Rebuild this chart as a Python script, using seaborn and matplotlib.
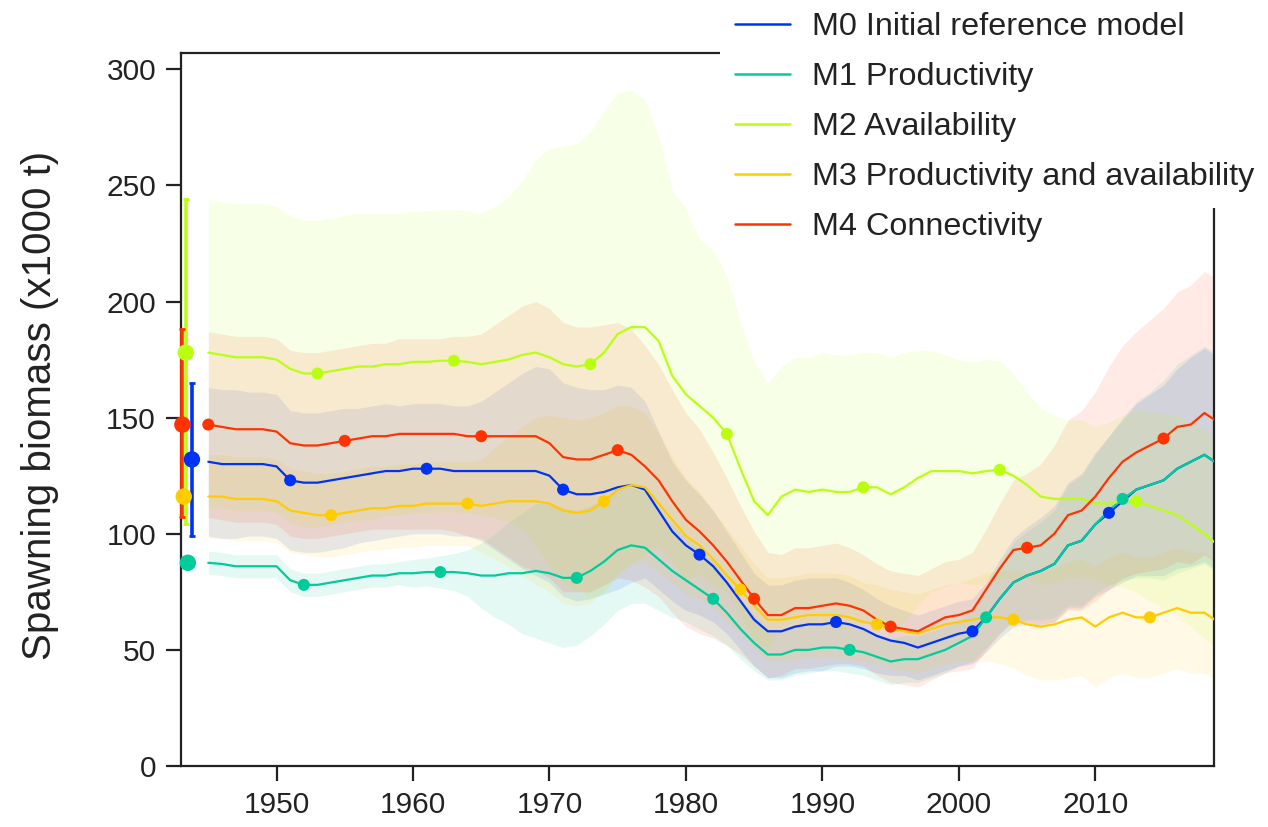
import numpy as np
import pandas as pd
import matplotlib
matplotlib.use("Agg")
import matplotlib.pyplot as plt
import seaborn as sns
from matplotlib.patches import Rectangle
from matplotlib.lines import Line2D

# ---------------- data ----------------
years = np.arange(1945, 2020)

models = ["M0 Initial reference model", "M1 Productivity", "M2 Availability",
          "M3 Productivity and availability", "M4 Connectivity"]

m0 = [131, 130, 130, 130, 130,
      129, 123, 122, 122, 123, 124, 125, 126, 127, 127,
      128, 128, 128, 127, 127, 127, 127, 127, 127, 127,
      125, 119, 117, 117, 118, 120, 121, 119, 110, 101,
      95, 91, 86, 79, 71, 63, 58, 58, 60, 61,
      61, 62, 61, 59, 56, 54, 53, 51, 53, 55,
      57, 58, 64, 72, 79, 82, 84, 87, 95, 97,
      104, 109, 114, 119, 121, 123, 128, 131, 134, 130]
m1 = [87.5, 87, 86, 86, 86,
      86, 80, 78, 78, 79, 80, 81, 82, 82, 83,
      83, 83.5, 83.5, 83.5, 83, 82, 82, 83, 83, 84,
      83, 81, 81, 84, 88, 93, 95, 94, 89, 84,
      80, 76, 72, 66, 59, 53, 48, 48, 50, 50,
      51, 51, 50, 49, 47, 45, 46, 46, 48, 50,
      53, 56, 64, 72, 79, 82, 84, 87, 95, 97,
      104, 110, 115, 119, 121, 123, 128, 131, 134, 130]
m2 = [178, 177, 176, 176, 176,
      175, 171, 169, 169, 170, 171, 172, 172, 173, 173,
      174, 174, 174.5, 174.5, 174, 173, 174, 175, 177, 178,
      176, 173, 172, 173, 178, 186, 189, 189, 183, 168,
      160, 155, 150, 143, 128, 114, 108, 116, 119, 118,
      119, 118, 118, 120, 120, 117, 120, 124, 127, 127,
      127, 126, 127, 127.5, 125, 121, 116, 115, 115, 115,
      113, 113, 114, 114, 112, 110, 108, 104, 100, 95]
m3 = [116, 116, 115, 115, 115,
      114, 110, 109, 108, 108, 109, 110, 111, 111, 112,
      112, 113, 113, 113, 113, 112, 113, 114, 114, 114,
      113, 110, 109, 110, 114, 119, 121, 120, 113, 106,
      99, 95, 89, 82, 76, 69, 63, 63, 64, 65,
      65, 65, 64, 62, 61, 59, 58, 57, 59, 61,
      62, 63, 64, 64, 63, 61, 60, 61, 63, 64,
      60, 64, 66, 64, 64, 66, 68, 66, 66, 62]
m4 = [147, 146, 145, 145, 145,
      144, 139, 138, 138, 139, 140, 141, 142, 142, 143,
      143, 143, 143, 143, 142, 142, 142, 142, 142, 142,
      139, 133, 132, 132, 134, 136, 134, 129, 123, 114,
      106, 101, 95, 88, 80, 72, 65, 65, 68, 68,
      69, 70, 69, 67, 63, 60, 59, 58, 61, 64,
      65, 67, 76, 85, 93, 94, 95, 100, 108, 110,
      116, 124, 131, 135, 138, 141, 146, 147, 152, 148]

# half-widths of the 95% intervals
hw0 = [32, 32, 32, 31, 31,
       31, 30, 30, 30, 30, 30, 29, 29, 29, 28,
       28, 28, 28, 28, 28, 30, 34, 38, 42, 45,
       46, 46, 46, 45, 44, 44, 42, 38, 34, 30,
       28, 26, 24, 22, 21, 20, 20, 20, 20, 20,
       20, 19, 18, 17, 16, 15, 14, 14, 14, 14,
       14, 14, 15, 17, 19, 21, 23, 25, 27, 29,
       31, 33, 35, 37, 39, 41, 43, 45, 46, 46]
hw1 = [5, 5, 5, 5, 5,
       5, 5, 5, 5, 5, 5, 5, 5, 5, 5,
       6, 6, 7, 8, 10, 14, 18, 22, 26, 29,
       30, 30, 29, 28, 27, 26, 25, 24, 22, 20,
       18, 17, 16, 14, 13, 12, 11, 11, 11, 10,
       10, 10, 10, 10, 10, 10, 10, 10, 10, 10,
       10, 11, 13, 15, 17, 19, 21, 23, 26, 28,
       30, 32, 35, 38, 40, 43, 45, 46, 47, 47]
hw2 = [66, 66, 66, 66, 66,
       66, 66, 66, 66, 66, 66, 66, 66, 65, 65,
       65, 65, 65, 65, 65, 65, 67, 70, 75, 83,
       90, 94, 96, 100, 104, 104, 102, 98, 88, 80,
       80, 72, 72, 68, 63, 60, 57, 56, 57, 58,
       59, 59, 59, 58, 58, 59, 58, 55, 52, 50,
       48, 48, 48, 47, 44, 40, 38, 36, 34, 34,
       33, 35, 37, 39, 41, 42, 43, 44, 45, 45]
hw3 = [18, 18, 18, 18, 18,
       18, 18, 18, 18, 18, 18, 18, 18, 18, 18,
       18, 18, 18, 18, 18, 20, 24, 28, 32, 36,
       38, 40, 40, 40, 38, 36, 34, 32, 30, 27,
       25, 23, 21, 20, 19, 18, 18, 18, 18, 18,
       18, 18, 18, 17, 17, 17, 17, 17, 17, 17,
       17, 18, 19, 20, 21, 22, 23, 24, 25, 25,
       26, 26, 26, 26, 26, 26, 26, 26, 26, 26]
hw4 = [40, 40, 40, 40, 40,
       40, 40, 40, 40, 40, 40, 40, 40, 40, 41,
       41, 41, 41, 42, 43, 44, 48, 52, 56, 58,
       58, 58, 57, 57, 56, 55, 54, 52, 50, 48,
       46, 44, 40, 36, 32, 29, 27, 26, 26, 26,
       26, 26, 25, 24, 24, 24, 24, 24, 24, 24,
       24, 25, 26, 28, 30, 32, 35, 38, 41, 43,
       45, 48, 50, 52, 54, 56, 58, 60, 61, 61]

# virgin (unfished) biomass estimates and intervals
virgin_year = [1943.8, 1943.5, 1943.35, 1943.2, 1943.1]
virgin_val = [132, 87.5, 178, 116, 147]
virgin_lo = [99, np.nan, 104, np.nan, 107]
virgin_hi = [165, np.nan, 244, np.nan, 188]

series = [m0, m1, m2, m3, m4]
halfw = [hw0, hw1, hw2, hw3, hw4]
colors = ["#0033F1", "#00CC9B", "#BAFF11", "#FFCC00", "#FF3300"]

# ---------------- build tables ----------------
rows = []
for name, vals in zip(models, series):
    for y, v in zip(years, vals):
        rows.append((name, y, v))
df = pd.DataFrame(rows, columns=["model", "year", "value"])

pts = []
for i, (name, vals) in enumerate(zip(models, series)):
    for y, v in zip(years, vals):
        if (y - 1951 - i) % 10 == 0:
            pts.append((name, y, v))
pts = pd.DataFrame(pts, columns=["model", "year", "value"])

vdf = pd.DataFrame({"model": models, "year": virgin_year, "value": virgin_val})

# ---------------- plot ----------------
sns.set_theme(style="ticks")
plt.rcParams["font.family"] = ["Liberation Sans", "DejaVu Sans"]

fig = plt.figure(figsize=(12.68, 8.27), dpi=100)
ax = fig.add_axes([181 / 1268, 1 - 766 / 827, (1214 - 181) / 1268, (766 - 53) / 827])

pal = dict(zip(models, colors))

for vals, hw, c in zip(series, halfw, colors):
    v = np.array(vals, float)
    h = np.array(hw, float)
    ax.fill_between(years, v - h, v + h, color=c, alpha=0.10, lw=0, zorder=1)

sns.lineplot(data=df, x="year", y="value", hue="model", palette=pal,
             estimator=None, sort=False, lw=1.6, legend=False, ax=ax, zorder=3)
sns.scatterplot(data=pts, x="year", y="value", hue="model", palette=pal,
                s=75, edgecolor="none", legend=False, ax=ax, zorder=4)

for i in [2, 4, 0]:
    if not np.isnan(virgin_lo[i]):
        ax.errorbar(virgin_year[i], virgin_val[i],
                    yerr=[[virgin_val[i] - virgin_lo[i]], [virgin_hi[i] - virgin_val[i]]],
                    fmt="none", ecolor=colors[i], elinewidth=2.6, capsize=2,
                    capthick=2, zorder=4, clip_on=False)
sns.scatterplot(data=vdf, x="year", y="value", hue="model", palette=pal,
                s=140, edgecolor="none", legend=False, ax=ax, zorder=5, clip_on=False)

ax.set_xlim(1943.0, 2018.7)
ax.set_ylim(0, 307)
ax.set_xticks([1950, 1960, 1970, 1980, 1990, 2000, 2010])
ax.set_yticks([0, 50, 100, 150, 200, 250, 300])
ax.tick_params(axis="both", which="major", labelsize=21.5, length=11, width=1.6,
               direction="out", color="#222222", labelcolor="#222222", pad=7)
for sp in ax.spines.values():
    sp.set_linewidth(1.6)
    sp.set_color("#222222")
    sp.set_visible(True)

ax.set_xlabel("")
ax.set_ylabel("Spawning biomass (x1000 t)", fontsize=29, color="#222222")
ax.yaxis.set_label_coords(-0.118, 0.505)

# white area behind the legend that hides part of the box
fig.add_artist(Rectangle((720 / 1268, 1 - 208 / 827), 1 - 720 / 1268, 208 / 827,
                         transform=fig.transFigure, facecolor="white",
                         edgecolor="none", zorder=5))

handles = [Line2D([0], [0], color=c, lw=1.8) for c in colors]
leg = fig.legend(handles, models, loc="upper left",
                 bbox_to_anchor=(735 / 1268, 1 - 12 / 827),
                 frameon=False, fontsize=23.3, handlelength=1.7,
                 handletextpad=0.68, labelspacing=0.62, borderpad=0,
                 borderaxespad=0)
leg.set_zorder(6)
for t in leg.get_texts():
    t.set_color("#222222")

fig.savefig("out.png", dpi=100)
